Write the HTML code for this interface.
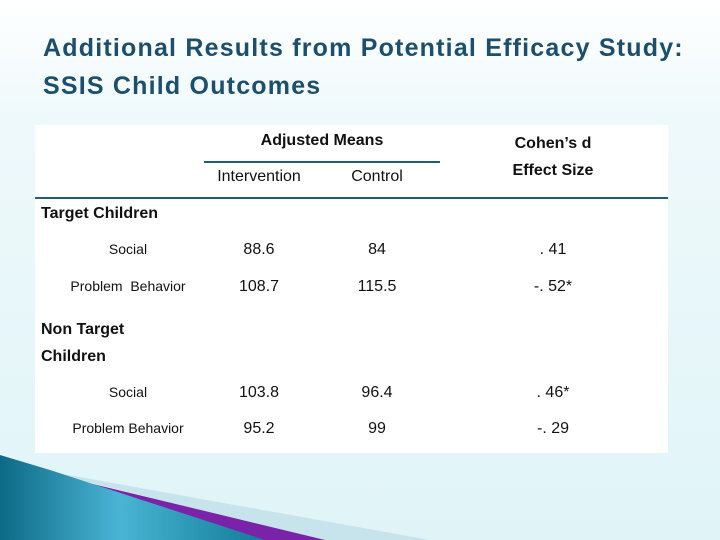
<!DOCTYPE html>
<html><head><meta charset="utf-8">
<style>
html,body{margin:0;padding:0}
body{width:720px;height:540px;position:relative;overflow:hidden;background:linear-gradient(#ffffff 0px,#eef9fb 120px,#e0f4f8 540px);font-family:"Liberation Sans",sans-serif}
.title{position:absolute;left:43px;top:29px;font-size:25px;font-weight:bold;line-height:38px;color:#1b4f6d;letter-spacing:1.2px}
.tbl{position:absolute;left:35px;top:125px;width:633px;height:328px;background:#fff}
.t{position:absolute;font-size:16px;color:#111;white-space:nowrap}
.b{font-weight:bold}
.c{transform:translateX(-50%)}
.s{font-size:14px}
</style></head><body>
<div class="title">Additional Results from Potential Efficacy Study:<br>SSIS Child Outcomes</div>
<div class="tbl">
  <div style="position:absolute;left:169px;top:36px;width:236px;height:2px;background:#1f5f6e"></div>
  <div style="position:absolute;left:0;top:72px;width:633px;height:2px;background:#1f5f6e"></div>
  <div class="t b c" style="left:287px;top:7px">Adjusted Means</div>
  <div class="t b c" style="left:518px;top:5px;text-align:center;line-height:27px">Cohen’s d<br>Effect Size</div>
  <div class="t c" style="left:224px;top:43px">Intervention</div>
  <div class="t c" style="left:342px;top:43px">Control</div>
  <div class="t b" style="left:6px;top:80px">Target Children</div>
  <div class="t c s" style="left:93px;top:116px">Social</div>
  <div class="t c" style="left:224px;top:116px">88.6</div>
  <div class="t c" style="left:342px;top:116px">84</div>
  <div class="t c" style="left:518px;top:116px">. 41</div>
  <div class="t c s" style="left:93px;top:153px">Problem &nbsp;Behavior</div>
  <div class="t c" style="left:224px;top:153px">108.7</div>
  <div class="t c" style="left:342px;top:153px">115.5</div>
  <div class="t c" style="left:518px;top:153px">-. 52*</div>
  <div class="t b" style="left:6px;top:191px;line-height:27px">Non Target<br>Children</div>
  <div class="t c s" style="left:93px;top:259px">Social</div>
  <div class="t c" style="left:224px;top:259px">103.8</div>
  <div class="t c" style="left:342px;top:259px">96.4</div>
  <div class="t c" style="left:518px;top:259px">. 46*</div>
  <div class="t c s" style="left:93px;top:295px">Problem Behavior</div>
  <div class="t c" style="left:224px;top:295px">95.2</div>
  <div class="t c" style="left:342px;top:295px">99</div>
  <div class="t c" style="left:518px;top:295px">-. 29</div>
</div>
<svg style="position:absolute;left:0;top:0" width="720" height="540">
  <defs><linearGradient id="g" x1="0" y1="0" x2="1" y2="0"><stop offset="0" stop-color="#0d6a86"/><stop offset="0.45" stop-color="#4ab4d4"/><stop offset="1" stop-color="#117b98"/></linearGradient></defs>
  <polygon points="40,470 430,540 320,540" fill="#c7e3ec"/>
  <polygon points="35,470 325,540 230,540" fill="#7a22a8"/>
  <polygon points="0,455 50,470 265,540 0,540" fill="url(#g)"/>
</svg>
</body></html>
